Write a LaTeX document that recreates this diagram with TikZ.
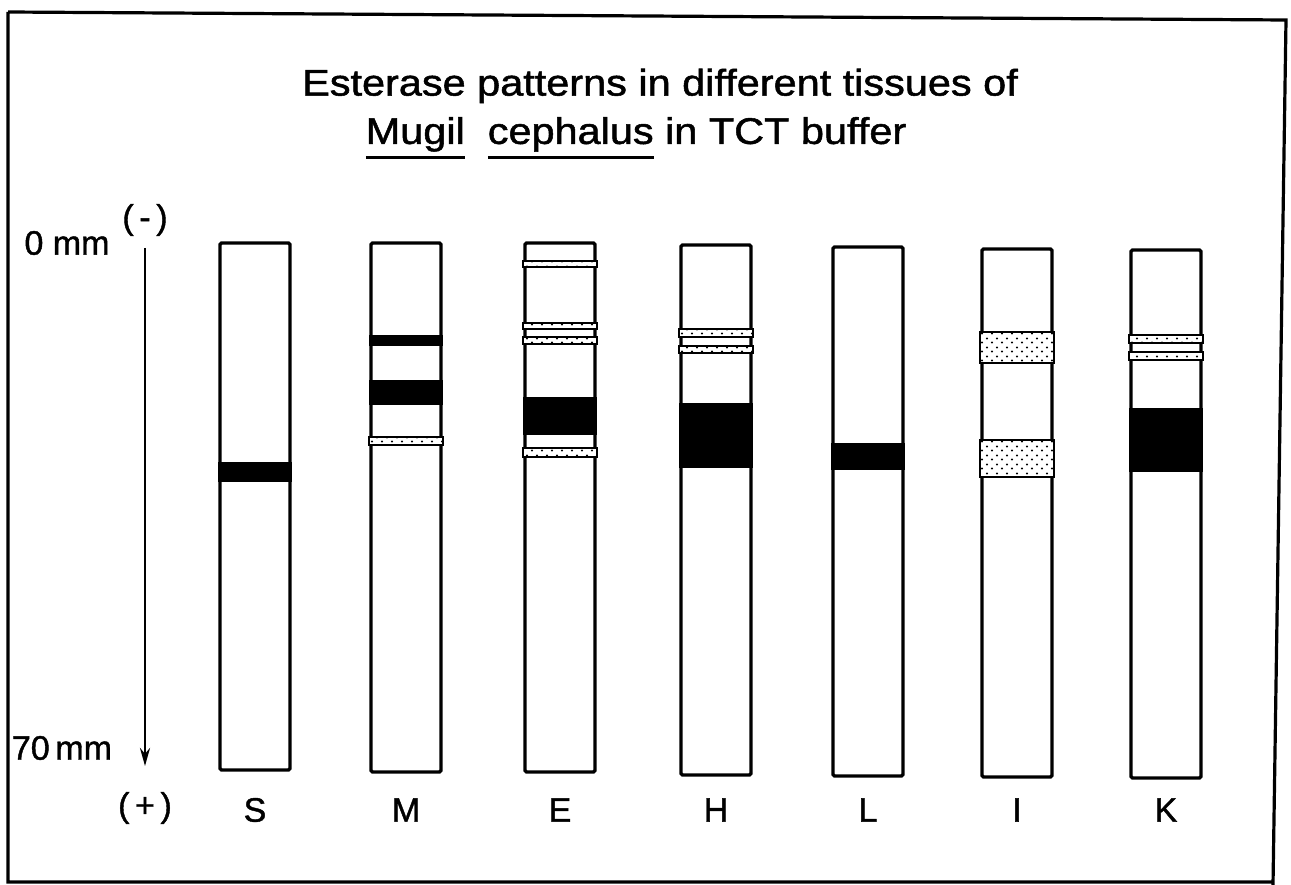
\documentclass[tikz,border=0pt]{standalone}
\usepackage{fontspec}
\setmainfont{Liberation Sans}[FakeBold=1.2]
\newfontfamily\narrowfont{Liberation Sans}[FakeStretch=1.12,FakeBold=1.4]
\usetikzlibrary{arrows.meta,patterns}

\pgfdeclarepatternformonly{speckle}{\pgfqpoint{-2pt}{-2pt}}{\pgfqpoint{12pt}{11pt}}{\pgfqpoint{10pt}{9pt}}{%
  \pgfpathcircle{\pgfqpoint{2pt}{2.5pt}}{1.2pt}%
  \pgfpathcircle{\pgfqpoint{7pt}{6.5pt}}{1.1pt}%
  \pgfusepath{fill}}

% band across one lane, between two depths (px from top)
\newcommand{\band}[4]{\path[#4] (lane#1.west |- 0,#2) rectangle (lane#1.east |- 0,#3);}
\newcommand{\rulebelow}[1]{\setbox0\hbox{#1}\rlap{\rule[-15pt]{\wd0}{2.8pt}}\box0\relax}

\begin{document}
\begin{tikzpicture}[x=1pt,y=-1pt,>=Stealth,
  lane/.style={draw,line width=3.4pt,minimum width=70pt,rounded corners=1.5pt,inner sep=0pt},
  dark/.style={fill=black},
  speck/.style={draw,line width=1.8pt,fill=white,postaction={pattern=speckle}},
  tag/.style={font=\fontsize{34}{36}\selectfont},
  title/.style={font=\narrowfont\fontsize{37}{44}\selectfont}]
\useasboundingbox (0,0) rectangle (1291,885);
\draw[line width=3.2pt] (8,12) -- (1286,20) -- (1273,885) (8,12) -- (8,882) -- (1273,882);

\node[title] (head1) at (660,86) {Esterase patterns in different tissues of};
\node[title] (head2) at (636,138) {\rulebelow{Mugil}\ \ \rulebelow{cephalus} in TCT buffer};

% lanes
\foreach \nm/\x/\t/\b in {S/255/243/770,M/406/243/772,E/560/243/772,H/716/245/775,L/868/247/776,I/1017/249/777,K/1166/250/778}{
  \node[lane,minimum height={(\b-\t)*1pt}] (lane\nm) at (\x,{(\t+\b)/2}) {};
  \node[tag] (name\nm) at (\x,810) {\nm};
}

% bands
\band{S}{462}{482}{dark}
\band{M}{335}{346}{dark}
\band{M}{380}{405}{dark}
\band{M}{437}{445}{speck}
\band{E}{261}{267}{speck}
\band{E}{323}{329}{speck}
\band{E}{337}{344}{speck}
\band{E}{397}{435}{dark}
\band{E}{448}{457}{speck}
\band{H}{329}{337}{speck}
\band{H}{346}{353}{speck}
\band{H}{403}{468}{dark}
\band{L}{443}{470}{dark}
\band{I}{332}{363}{speck}
\band{I}{440}{477}{speck}
\band{K}{335}{343}{speck}
\band{K}{352}{360}{speck}
\band{K}{408}{472}{dark}

% scale
\node[tag] (zero) at (67,243) {0 mm};
\node[tag] (minus) at (145,220) {(\,-\,)};
\node[tag] (seventy) at (62,748) {70\,mm};
\node[tag] (plus) at (145,808) {(\,+\,)};
\coordinate (axtop) at (145,248);
\coordinate (axbot) at (145,766);
\draw[->,line width=2.8pt,-{Stealth[length=18pt,width=10pt]}] (axtop) -- (axbot);
\end{tikzpicture}
\end{document}
